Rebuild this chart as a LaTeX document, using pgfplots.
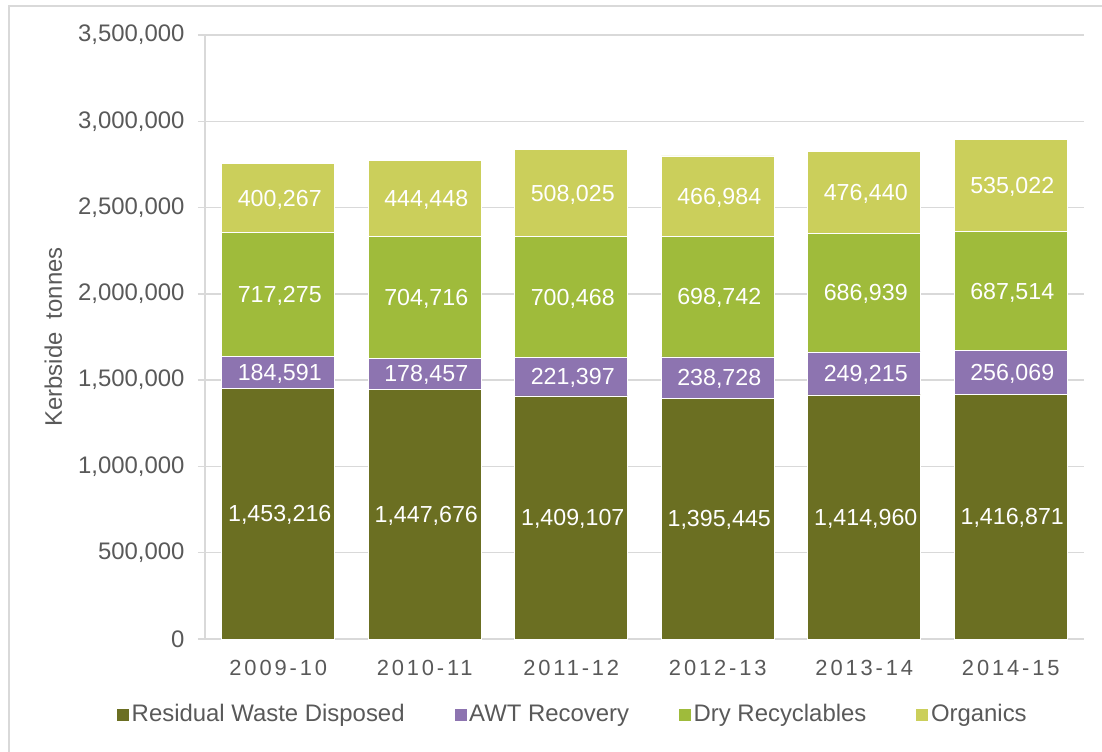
\documentclass[border=0pt]{standalone}
\usepackage{pgfplots}
\pgfplotsset{compat=1.18}
\usepackage{pgfplotstable}
\usepackage{fontspec}
\setmainfont{Liberation Sans}
\newfontfamily\xtickfont[LetterSpace=13]{Liberation Sans}
\definecolor{cres}{RGB}{107,111,34}
\definecolor{cawt}{RGB}{141,116,176}
\definecolor{cdry}{RGB}{159,187,59}
\definecolor{corg}{RGB}{203,207,91}
\definecolor{cgrid}{RGB}{217,217,217}
\definecolor{ctxt}{RGB}{89,89,89}

\pgfplotstableread{
x res awt dry org
0 1453216 184591 717275 400267
1 1447676 178457 704716 444448
2 1409107 221397 700468 508025
3 1395445 238728 698742 466984
4 1414960 249215 686939 476440
5 1416871 256069 687514 535022
}\data

\pgfplotsset{
  common/.style={
    at={(205bp,-639bp)}, anchor=south west,
    scale only axis, width=879bp, height=604bp,
    xmin=-0.5, xmax=5.5, ymin=0, ymax=3500000,
  },
  lab/.style={draw=none, mark=none, point meta=explicit,
    nodes near coords={\pgfmathprintnumber[fixed,precision=0,1000 sep={,},assume math mode=true]{\pgfplotspointmeta}},
    every node near coord/.append style={font=\fontsize{23.3}{27}\selectfont, text=white, anchor=center, inner sep=0pt, xshift=1.5bp, yshift=-1.5bp}},
}

\begin{document}
\begin{tikzpicture}
\useasboundingbox (0,0) rectangle (1102bp,-752bp);
\draw[cgrid, line width=1.3bp] (9bp,-760bp) -- (9bp,-6bp) -- (1110bp,-6bp);
\begin{axis}[
  common,
  ybar stacked, bar width=113bp,
  xtick={0,...,5},
  xticklabels={2009-10,2010-11,2011-12,2012-13,2013-14,2014-15},
  ytick={0,500000,...,3500000},
  scaled y ticks=false,
  yticklabel style={/pgf/number format/fixed, /pgf/number format/1000 sep={,}, /pgf/number format/assume math mode=true, font=\fontsize{24}{28}\selectfont, text=ctxt, xshift=-10bp},
  xticklabel style={font=\fontsize{22}{26}\selectfont\xtickfont, text=ctxt, yshift=-11bp},
  axis x line*=bottom, axis y line*=left,
  axis line style={draw=cgrid, line width=1.3bp, -},
  ymajorgrids, grid style={draw=cgrid, line width=1.3bp},
  tick align=outside, major tick length=7bp,
  ytick style={draw=cgrid, line width=1.3bp},
  xtick style={draw=none},
  ylabel={Kerbside~~tonnes},
  ylabel style={at={(axis description cs:-0.1725,0.5)}, anchor=center, font=\fontsize{24}{28}\selectfont, text=ctxt},
  legend columns=4,
  legend style={draw=none, fill=none, at={(0.418,-0.124)}, anchor=center,
    font=\fontsize{24}{28}\selectfont, text=ctxt,
    nodes={inner xsep=2bp, inner ysep=0bp},
    /tikz/every even column/.append style={column sep=47bp}},
  legend image code/.code={\fill[#1] (0bp,-7bp) rectangle (13bp,6bp);},
]
\addplot[fill=cres, draw=white, line width=0.6bp] table[x=x,y=res] {\data};
\addplot[fill=cawt, draw=white, line width=0.6bp] table[x=x,y=awt] {\data};
\addplot[fill=cdry, draw=white, line width=0.6bp] table[x=x,y=dry] {\data};
\addplot[fill=corg, draw=white, line width=0.6bp] table[x=x,y=org] {\data};
\legend{Residual Waste Disposed, AWT Recovery, Dry Recyclables, Organics}
\end{axis}
\begin{axis}[common, hide axis]
\addplot[lab] table[x=x, y expr={\thisrow{res}/2}, meta=res] {\data};
\addplot[lab] table[x=x, y expr={\thisrow{res}+\thisrow{awt}/2}, meta=awt] {\data};
\addplot[lab] table[x=x, y expr={\thisrow{res}+\thisrow{awt}+\thisrow{dry}/2}, meta=dry] {\data};
\addplot[lab] table[x=x, y expr={\thisrow{res}+\thisrow{awt}+\thisrow{dry}+\thisrow{org}/2}, meta=org] {\data};
\end{axis}
\end{tikzpicture}
\end{document}
